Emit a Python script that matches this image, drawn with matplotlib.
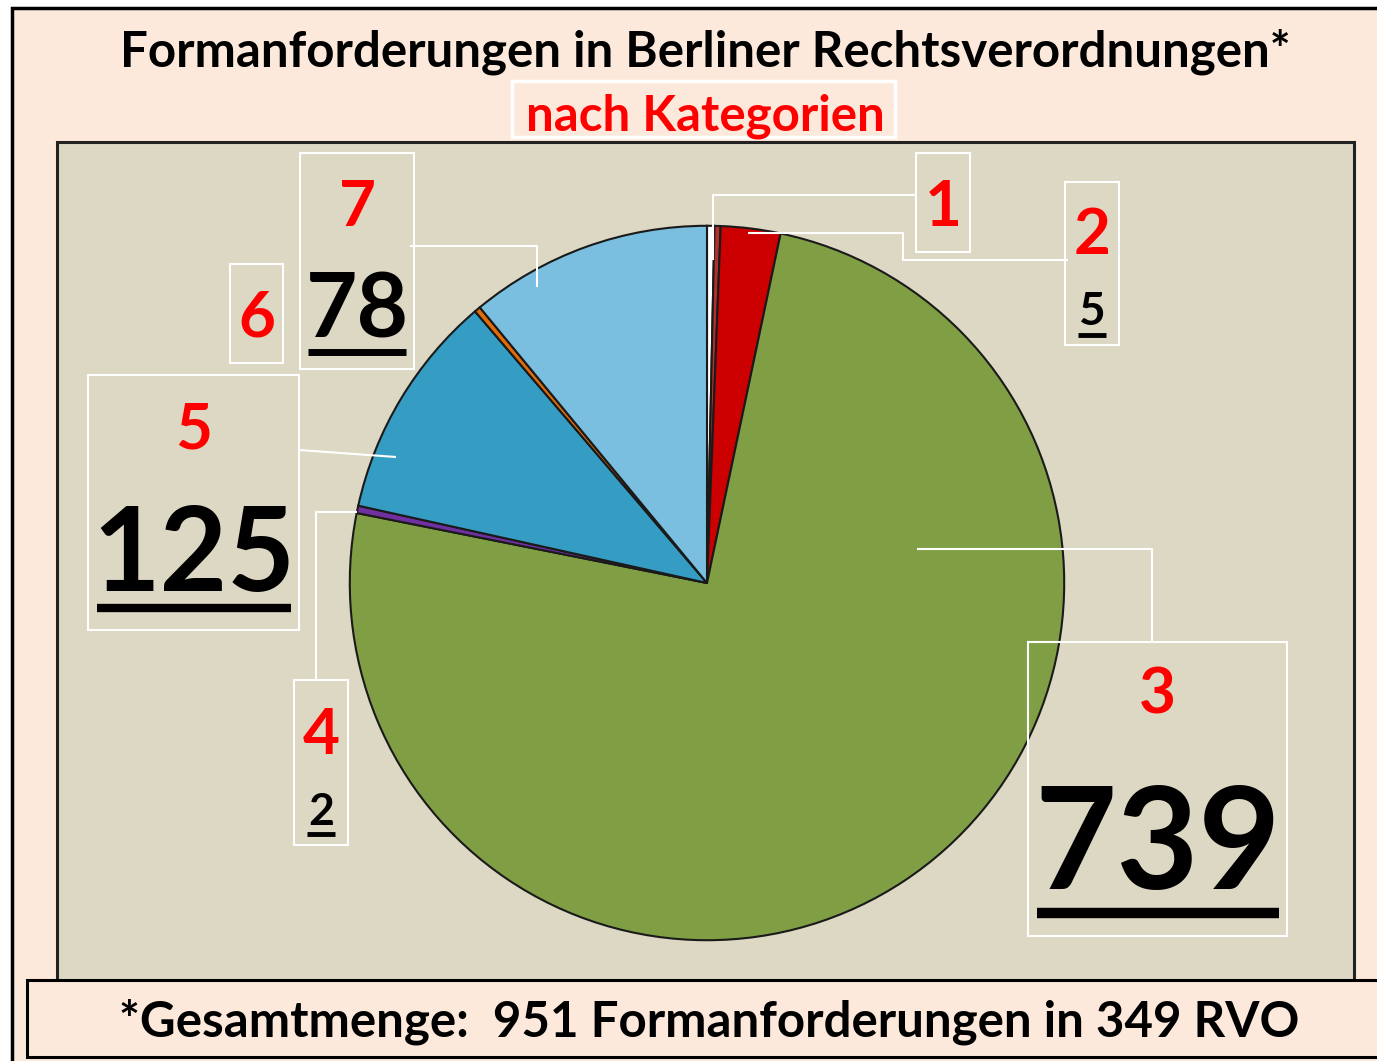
import matplotlib.pyplot as plt
from matplotlib.patches import Rectangle

# categories 1..7 (plus an unlabelled sliver next to 1) and the shown counts
categories = ["1", "1b", "2", "3", "4", "5", "6", "7"]
# slice sizes as drawn in the picture (degrees, clockwise from 12 o'clock)
slice_deg = [1.2, 1.0, 9.7, 269.4, 1.2, 37.0, 1.0, 39.5]
slice_colors = ["#ffffff", "#b0302c", "#cc0000", "#809f45", "#7030a0",
                "#359dc3", "#e36c09", "#7abfdf"]
label_counts = {"2": "5", "3": "739", "4": "2", "5": "125", "7": "78"}

title = "Formanforderungen in Berliner Rechtsverordnungen*"
subtitle = "nach Kategorien"
footnote = "*Gesamtmenge:  951 Formanforderungen in 349 RVO"

W, H = 1377, 1061
PEACH = "#fde9dc"
TAN = "#ddd8c3"
FONT = ["Lato", "DejaVu Sans"]

fig = plt.figure(figsize=(W / 100, H / 100), dpi=100)
fig.patch.set_facecolor("white")

# background layer (pixel coordinates)
bg = fig.add_axes([0, 0, 1, 1], zorder=0)
bg.set_xlim(0, W)
bg.set_ylim(H, 0)
bg.axis("off")
bg.add_patch(Rectangle((12, 8), W, H, facecolor=PEACH, edgecolor="black", lw=2.5))
bg.add_patch(Rectangle((57, 142), 1297, 850, facecolor=TAN, edgecolor="#222222", lw=2.2))
bg.add_patch(Rectangle((27, 980), W, 77, facecolor=PEACH, edgecolor="black", lw=2.2))

# pie
cx, cy, r = 707, 583, 359
pie_ax = fig.add_axes([(cx - r) / W, 1 - (cy + r) / H, 2 * r / W, 2 * r / H], zorder=1)
pie_ax.pie(slice_deg, colors=slice_colors, startangle=90, counterclock=False,
           wedgeprops=dict(edgecolor="#1a1a1a", linewidth=1.5))
pie_ax.set_xlim(-1.005, 1.005)
pie_ax.set_ylim(-1.005, 1.005)
pie_ax.axis("off")

# overlay layer: titles, leader lines, label boxes
ov = fig.add_axes([0, 0, 1, 1], zorder=2)
ov.set_xlim(0, W)
ov.set_ylim(H, 0)
ov.axis("off")
ov.patch.set_alpha(0)

ov.text(705, 52, title, ha="center", va="center", fontsize=35.5,
        fontweight="bold", family=FONT, color="black")
ov.add_patch(Rectangle((512, 81), 383, 56, facecolor=PEACH, edgecolor="white", lw=2.5))
ov.text(705, 116, subtitle, ha="center", va="center", fontsize=35.5,
        fontweight="bold", family=FONT, color="#ff0000")
ov.text(709, 1022, footnote, ha="center", va="center", fontsize=35.5,
        fontweight="bold", family=FONT, color="black")

line_kw = dict(color="white", lw=1.5, solid_capstyle="butt")
leaders = [
    ([713, 713, 916], [260, 195, 195]),              # 1
    ([748, 903, 903, 1068], [233, 233, 260, 260]),   # 2
    ([917, 1152, 1152], [549, 549, 642]),            # 3
    ([357, 316, 316], [512, 512, 680]),              # 4
    ([396, 299], [457, 450]),                        # 5
    ([537, 537, 410], [287, 246, 246]),              # 7
]
for xs, ys in leaders:
    ov.plot(xs, ys, **line_kw)

box_kw = dict(facecolor="none", edgecolor="white", lw=1.5)
# (category, box x0, y0, x1, y1, red label y, count y, count size, underline y, underline half-width, underline lw)
boxes = [
    ("1", 916, 153, 970, 252, 207, None, None, None, None, None),
    ("2", 1065, 182, 1119, 345, 235, 312, 33, 335, 14, 3.5),
    ("3", 1028, 642, 1287, 936, 695, 848, 102, 913, 121, 7.5),
    ("4", 294, 680, 348, 845, 735, 812, 32, 834, 14, 3.5),
    ("5", 88, 375, 299, 630, 430, 558, 84, 608, 97, 6),
    ("6", 230, 264, 283, 363, 318, None, None, None, None, None),
    ("7", 300, 153, 414, 369, 207, 312, 64, 352, 49, 5),
]
for cat, x0, y0, x1, y1, ly, vy, vs, uy, uw, ulw in boxes:
    ov.add_patch(Rectangle((x0, y0), x1 - x0, y1 - y0, **box_kw))
    xc = (x0 + x1) / 2
    ov.text(xc, ly, cat, ha="center", va="center", fontsize=46,
            fontweight="bold", family=FONT, color="#ff0000")
    if cat in label_counts:
        ov.text(xc, vy, label_counts[cat], ha="center", va="center",
                fontsize=vs, fontweight="bold", family=FONT, color="black")
        ov.plot([xc - uw, xc + uw], [uy, uy], color="black", lw=ulw,
                solid_capstyle="butt")

fig.savefig("out.png", dpi=100)
